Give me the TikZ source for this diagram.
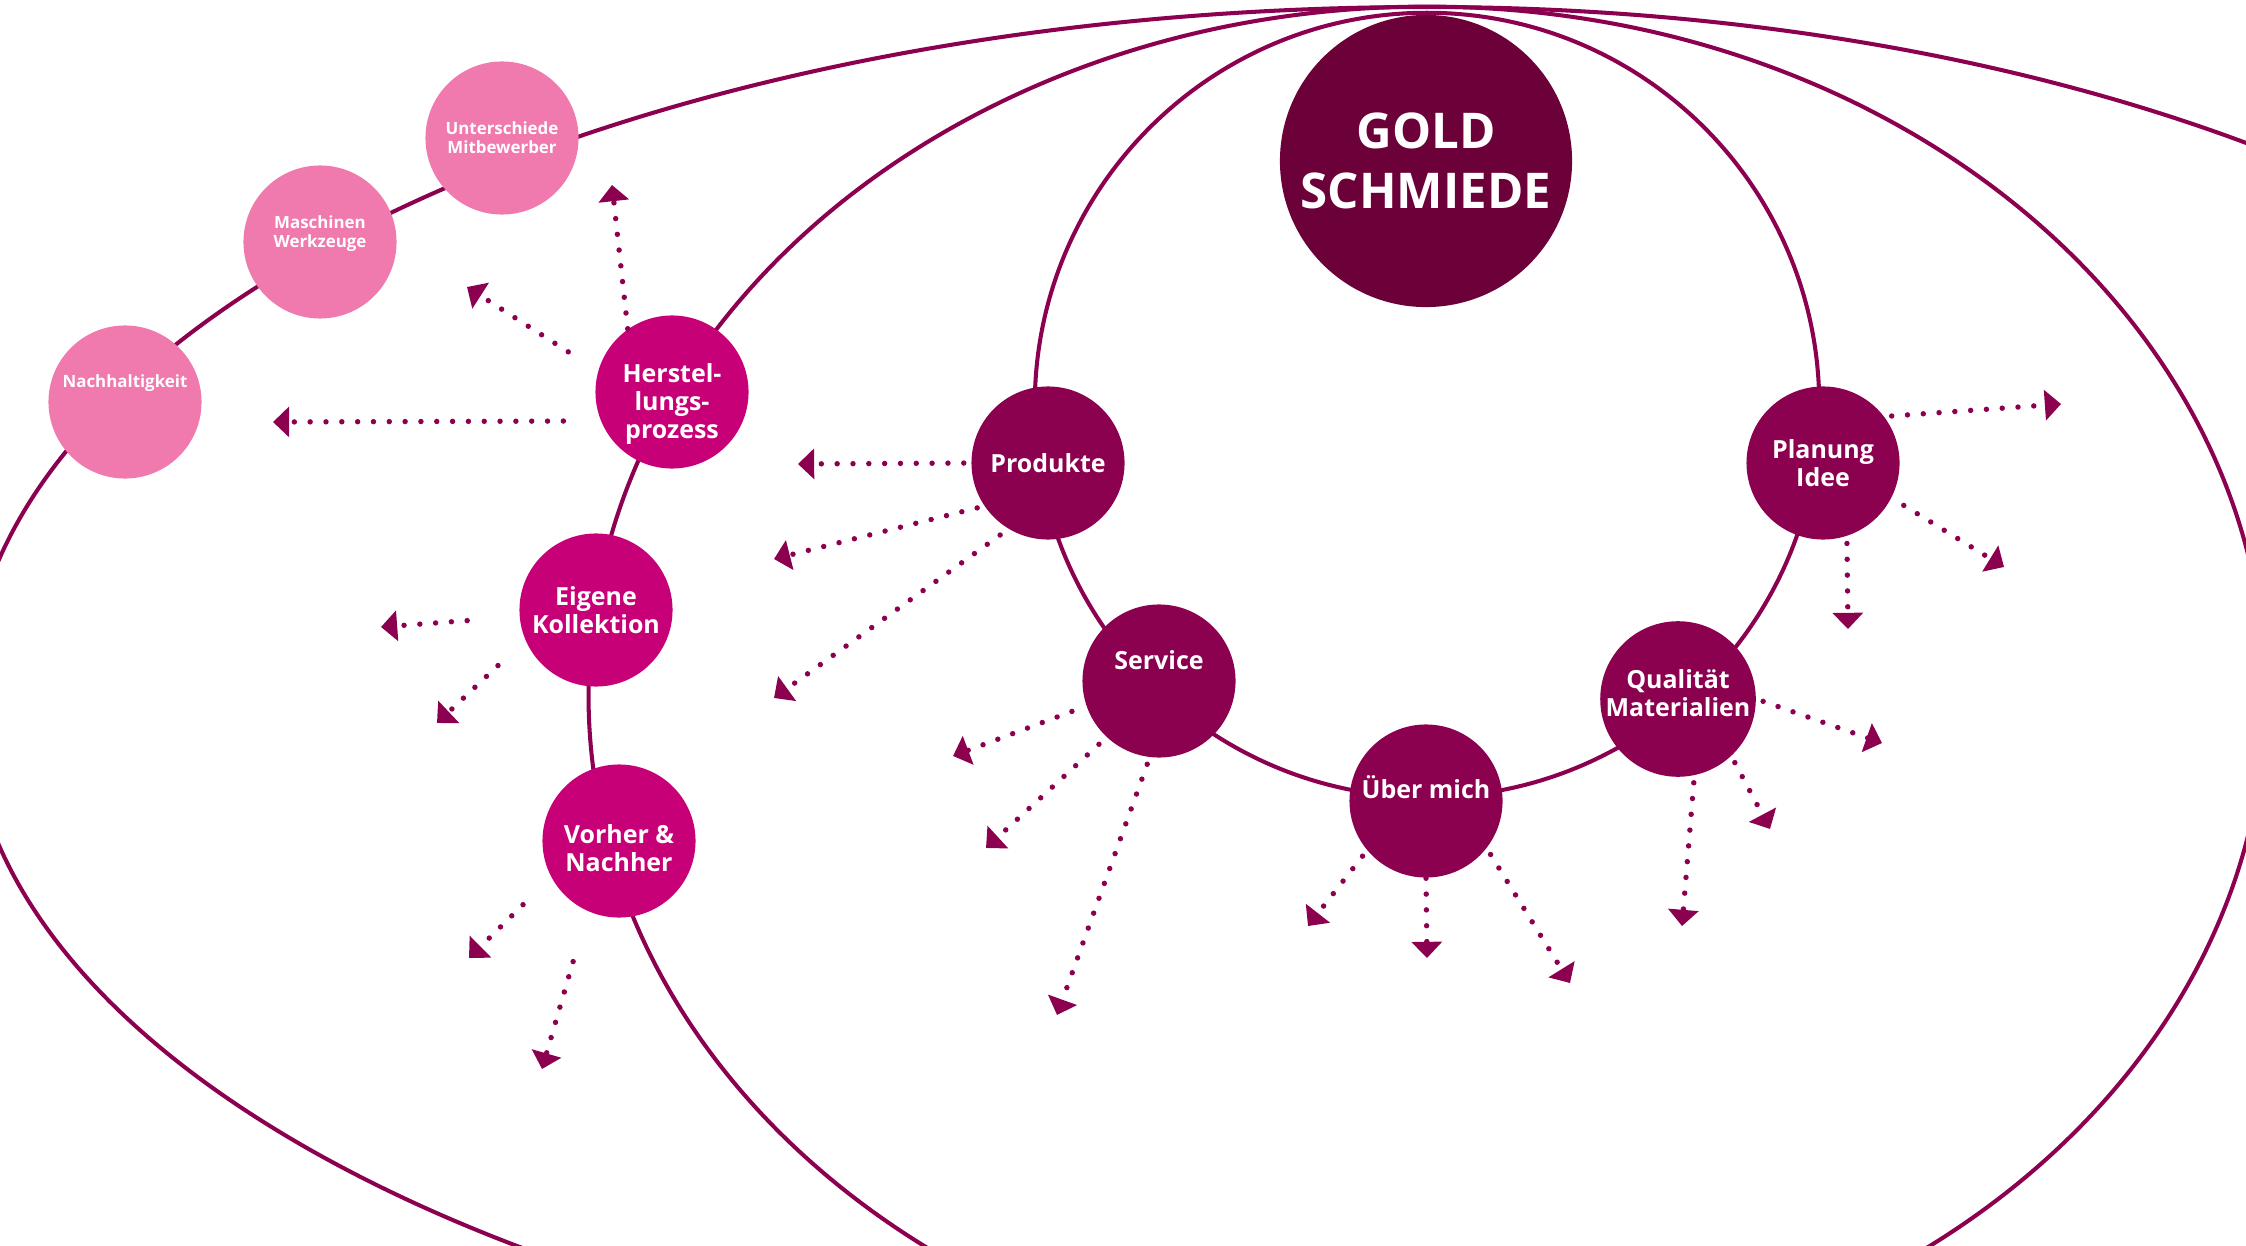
\documentclass[tikz,border=0pt]{standalone}
\usepackage{fontspec}
\setmainfont{Open Sans}
\usetikzlibrary{arrows.meta}

\definecolor{wine}{HTML}{8C0050}
\definecolor{darkwine}{HTML}{6C0038}
\definecolor{berry}{HTML}{C80078}
\definecolor{rosa}{HTML}{F07AAE}

\begin{document}
\begin{tikzpicture}[x=0.01cm,y=-0.01cm,
        orbit/.style={draw=wine,line width=1.15pt},
        topic/.style={circle,fill=wine,text=white,minimum size=1.53cm,inner sep=0pt,align=center,
            font=\fontsize{7.1}{8}\selectfont\bfseries},
        sub/.style={topic,fill=berry},
        extra/.style={topic,fill=rosa,font=\fontsize{4.8}{5.4}\selectfont\bfseries},
        core/.style={circle,fill=darkwine,text=white,minimum size=2.92cm,inner sep=0pt,align=center,
            font=\fontsize{14}{17}\selectfont\bfseries},
        idea/.style={draw=wine,line width=1.55pt,line cap=round,dash pattern=on 0pt off 4.5pt,
            shorten <=0.07cm,-{Triangle[length=4.6pt,width=8.5pt]}}]

        \useasboundingbox (0,0) rectangle (2246,1246);
        \clip (0,0) rectangle (2246,1246);

        % the three orbits, all touching at the top
        \draw[orbit] (1427,7) arc [start angle=90,end angle=270,x radius=14.58cm,y radius=6.95cm]
            (1427,7) arc [start angle=90,end angle=-90,x radius=13.78cm,y radius=6.95cm];
        \draw[orbit] (1427,695) ellipse [x radius=8.38cm,y radius=6.88cm];
        \draw[orbit] (1427,405) circle [radius=3.92cm];

        \node[core] (gold) at (1426,161) {GOLD\\SCHMIEDE};

        \node[topic] (prod) at (1048,463) {Produkte};
        \node[topic,text height=5.7pt,text depth=12pt] (serv) at (1159,681) {Service};
        \node[topic,text height=5.7pt,text depth=7.4pt] (ueber) at (1426,801) {Über mich};
        \node[topic] (qual) at (1678,699) {Qualität\\Materialien\rule[-3.2pt]{0pt}{3.2pt}};
        \node[topic] (plan) at (1823,463) {Planung\\Idee};

        \node[sub] (herst) at (672,392) {\rule{0pt}{12.2pt}Herstel-\\lungs-\\prozess};
        \node[sub] (eigen) at (596,610) {Eigene\\Kollektion};
        \node[sub] (vorher) at (619,841) {\rule{0pt}{9.5pt}Vorher \&\\Nachher};

        \node[extra,text height=3.5pt,text depth=12pt] (nach) at (125,402) {Nachhaltigkeit};
        \node[extra] (masch) at (320,242) {Maschinen\\Werkzeuge\rule[-6.2pt]{0pt}{6.2pt}};
        \node[extra] (unter) at (502,138) {Unterschiede\\Mitbewerber};

        % arrow ends
        \coordinate (h1) at (612,185);
        \coordinate (h2) at (467,287);
        \coordinate (h3) at (273,422);
        \coordinate (p1) at (798,464);
        \coordinate (p2) at (774,559);
        \coordinate (p3) at (774,698);
        \coordinate (s1) at (953,756);
        \coordinate (s2) at (986,848);
        \coordinate (s3) at (1057,1015);
        \coordinate (e1) at (381,627);
        \coordinate (e2) at (437,723);
        \coordinate (v1) at (469,958);
        \coordinate (v2) at (542,1069);
        \coordinate (l1) at (2061,404);
        \coordinate (l2) at (2004,567);
        \coordinate (l3) at (1848,629);
        \coordinate (q1) at (1882,743);
        \coordinate (q2) at (1770,829);
        \coordinate (q3) at (1682,926);
        \coordinate (u1) at (1308,926);
        \coordinate (u2) at (1427,958);
        \coordinate (u3) at (1570,983);

        \draw[idea,shorten <=0pt] (herst.125) -- (h1);
        \draw[idea,shorten <=0.35cm] (herst.164) -- (h2);
        \draw[idea,shorten <=0.37cm] (herst.202) -- (h3);

        \draw[idea] (prod.180) -- (p1);
        \draw[idea] (prod.214) -- (p2);
        \draw[idea,shorten <=0.1cm] (prod.239) -- (p3);

        \draw[idea,shorten <=0.15cm] (serv.199) -- (s1);
        \draw[idea,shorten <=0.1cm] (serv.227) -- (s2);
        \draw[idea] (serv.263) -- (s3);

        \draw[idea,shorten <=0.52cm] (eigen.185) -- (e1);
        \draw[idea,shorten <=0.37cm] (eigen.203) -- (e2);

        \draw[idea,shorten <=0.39cm] (vorher.208) -- (v1);
        \draw[idea,shorten <=0.52cm] (vorher.246) -- (v2);

        \draw[idea] (plan.37) -- (l1);
        \draw[idea,shorten <=0.14cm] (plan.333) -- (l2);
        \draw[idea] (plan.288) -- (l3);

        \draw[idea] (qual.0) -- (q1);
        \draw[idea] (qual.313) -- (q2);
        \draw[idea] (qual.282) -- (q3);

        \draw[idea] (ueber.220) -- (u1);
        \draw[idea,shorten <=0pt] (ueber.270) -- (u2);
        \draw[idea] (ueber.322) -- (u3);
    \end{tikzpicture}
\end{document}
